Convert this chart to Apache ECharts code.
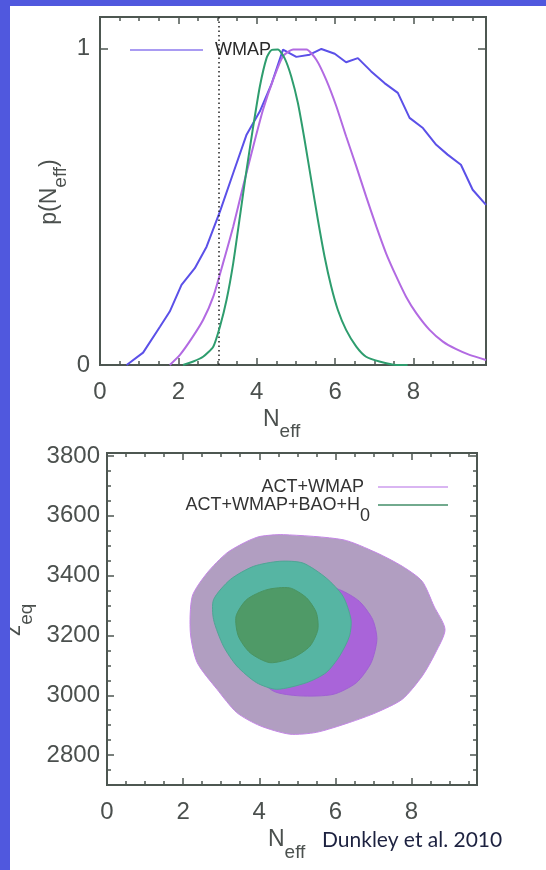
<!DOCTYPE html>
<html><head><meta charset="utf-8">
<script src="https://cdn.jsdelivr.net/npm/echarts@6/dist/echarts.min.js"></script>
<style>
html,body{margin:0;padding:0;background:#fff;width:546px;height:870px;overflow:hidden;}
#c{position:absolute;left:0;top:0;width:546px;height:870px;}
#bl{position:absolute;left:0;top:0;width:10px;height:870px;background:#5058de;}
#bt{position:absolute;left:0;top:0;width:546px;height:6px;background:#5058de;}
</style></head><body>
<div id="c"></div><div id="bl"></div><div id="bt"></div>
<script>
// ---------- data ----------
const wmap = [[0.68,0],[1.10,0.039],[1.53,0.121],[1.78,0.169],[2.08,0.253],[2.42,0.306],[2.72,0.374],[3.06,0.485],[3.40,0.607],[3.74,0.728],[4.08,0.802],[4.37,0.886],[4.67,0.997],[5.01,0.974],[5.35,0.981],[5.65,0.999],[5.99,0.984],[6.28,0.957],[6.58,0.970],[6.92,0.928],[7.26,0.891],[7.60,0.860],[7.90,0.781],[8.24,0.749],[8.58,0.696],[8.87,0.665],[9.21,0.633],[9.51,0.554],[9.85,0.506]];
const actWmap = [[1.78,0],[2.04,0.032],[2.34,0.084],[2.63,0.142],[2.89,0.216],[3.14,0.322],[3.40,0.438],[3.65,0.564],[3.91,0.691],[4.16,0.807],[4.42,0.902],[4.67,0.976],[4.93,0.997],[5.27,0.997],[5.52,0.965],[5.77,0.902],[6.03,0.818],[6.28,0.723],[6.54,0.628],[6.79,0.533],[7.05,0.438],[7.30,0.353],[7.56,0.280],[7.81,0.216],[8.07,0.164],[8.41,0.111],[8.75,0.074],[9.09,0.050],[9.43,0.032],[9.85,0.016]];
const actBao = [[2.12,0],[2.38,0.011],[2.63,0.026],[2.89,0.058],[3.06,0.121],[3.23,0.206],[3.40,0.322],[3.57,0.469],[3.74,0.617],[3.91,0.754],[4.08,0.881],[4.25,0.970],[4.37,0.995],[4.54,0.997],[4.71,0.970],[4.88,0.912],[5.05,0.828],[5.22,0.712],[5.39,0.585],[5.56,0.459],[5.73,0.343],[5.90,0.248],[6.07,0.174],[6.28,0.111],[6.54,0.058],[6.79,0.026],[7.13,0.011],[7.56,0],[7.85,0]];
const nStandard = 3.04;

// 2D contours (N_eff, z_eq)
const actOuter = [[4.02,3531],[4.63,3537],[6.20,3520],[7.07,3477],[7.76,3431],[8.28,3381],[8.59,3298],[8.88,3220],[8.63,3142],[8.28,3064],[7.76,2987],[7.07,2942],[6.37,2909],[5.50,2876],[4.80,2870],[4.02,2898],[3.41,2942],[2.89,3020],[2.37,3109],[2.19,3209],[2.24,3331],[2.63,3409],[3.15,3476],[3.67,3514]];
const actInner = [[5.33,3376],[6.11,3353],[6.63,3314],[6.98,3253],[7.09,3187],[6.94,3109],[6.55,3042],[5.94,3003],[5.07,2998],[4.37,3014],[3.76,3087],[3.32,3198],[3.59,3309],[4.46,3364]];
const baoOuter = [[4.54,3448],[5.15,3442],[5.76,3392],[6.20,3331],[6.41,3253],[6.37,3198],[6.11,3131],[5.76,3076],[5.24,3042],[4.46,3020],[3.93,3042],[3.41,3098],[3.06,3164],[2.80,3253],[2.80,3320],[3.24,3387],[3.85,3431]];
const baoInner = [[4.80,3359],[5.24,3326],[5.50,3276],[5.54,3220],[5.33,3164],[4.89,3126],[4.28,3109],[3.76,3142],[3.45,3198],[3.39,3264],[3.67,3320],[4.20,3353]];

// ticks / labels
const xLabels = [0,2,4,6,8];
const pLabels = [0,1];
const zLabels = [2800,3000,3200,3400,3600,3800];

// ---------- style ----------
const AX = '#4d5751';
const LBL = '#4b504e';
const FONT = 'Liberation Sans';

function ax(gi, pos, min, max, interval, len, labels, margin, custom) {
  const a = {
    type:'value', gridIndex:gi, position:pos, min:min, max:max,
    axisLine:{show:false, onZero:false}, splitLine:{show:false},
    axisTick:{show:true, inside:true, length:len, lineStyle:{color:AX, width:1.5}},
    axisLabel:{show:false}
  };
  if (custom) a.axisTick.customValues = custom; else a.interval = interval;
  if (labels) {
    a.axisLabel = {show:true, customValues:labels, margin:margin, color:LBL, fontSize:24, fontFamily:FONT,
      formatter:function(v){ return String(v); }};
  }
  return a;
}

const X0 = [0, 9.85], X1 = [0, 9.72];
const P = [0, 1.1], Z = [2700, 3810];

function poly(name, pts, fill, stroke, zz) {
  return {
    type:'custom', name:name, xAxisIndex:4, yAxisIndex:2, z:zz, silent:true,
    data: pts,
    itemStyle:{color:fill},
    renderItem: function(params, api) {
      if (params.dataIndex !== 0) return null;
      const p = pts.map(function(d){ return api.coord(d); });
      return {type:'polygon', shape:{points:p, smooth:0.25}, style:{fill:fill, stroke:stroke, lineWidth:1}};
    }
  };
}

const chart = echarts.init(document.getElementById('c'), null, {renderer:'canvas'});
chart.setOption({
  animation:false,
  backgroundColor:'transparent',
  grid:[
    {left:100, top:17, width:386, height:348, show:true, borderColor:AX, borderWidth:2},
    {left:107, top:453, width:370, height:332, show:true, borderColor:AX, borderWidth:2}
  ],
  xAxis:[
    ax(0,'bottom',X0[0],X0[1],2,7,xLabels,15),
    ax(0,'bottom',X0[0],X0[1],0.5,4),
    ax(0,'top',X0[0],X0[1],2,7),
    ax(0,'top',X0[0],X0[1],0.5,4),
    ax(1,'bottom',X1[0],X1[1],2,7,xLabels,15),
    ax(1,'bottom',X1[0],X1[1],0.5,4),
    ax(1,'top',X1[0],X1[1],2,7),
    ax(1,'top',X1[0],X1[1],0.5,4)
  ],
  yAxis:[
    ax(0,'left',P[0],P[1],1,8,pLabels,10),
    ax(0,'right',P[0],P[1],1,8),
    ax(1,'left',Z[0],Z[1],200,7,zLabels,7,zLabels),
    ax(1,'left',Z[0],Z[1],50,4),
    ax(1,'right',Z[0],Z[1],200,7,null,0,zLabels),
    ax(1,'right',Z[0],Z[1],50,4)
  ],
  legend:[
    {left:130, top:41, padding:0, icon:'rect', itemWidth:73, itemHeight:2, selectedMode:false,
     data:[{name:'WMAP', itemStyle:{color:'#a99bf2'}}],
     textStyle:{color:'#2a2a2a', fontSize:18, fontFamily:FONT, padding:[0,0,0,7]}},
    {right:98, top:478, padding:0, icon:'rect', align:'right', itemWidth:70, itemHeight:2, selectedMode:false,
     data:[{name:'ACT+WMAP', itemStyle:{color:'#d9b5f2'}}],
     textStyle:{color:'#333', fontSize:18, fontFamily:FONT, padding:[0,9,0,0]}},
    {right:98, top:496, padding:0, icon:'rect', align:'right', itemWidth:70, itemHeight:2, selectedMode:false,
     data:[{name:'ACT+WMAP+BAO+H0', itemStyle:{color:'#72aa8e'}}],
     formatter:function(){ return '{a|ACT+WMAP+BAO+H}{s|0}'; },
     textStyle:{color:'#333', fontSize:18, fontFamily:FONT, padding:[0,3,0,0],
       rich:{a:{fontSize:18, fontFamily:FONT, color:'#333'}, s:{fontSize:18, fontFamily:FONT, color:'#333', padding:[22,0,0,0]}}}}
  ],
  series:[
    {type:'line', name:'WMAP', xAxisIndex:0, yAxisIndex:0, data:wmap, symbol:'none', showSymbol:false, z:3,
     lineStyle:{color:'#5b50e8', width:2}, itemStyle:{color:'#5b50e8'},
     markLine:{silent:true, symbol:'none', label:{show:false}, animation:false,
       lineStyle:{color:'#222', type:[1.5,3], width:1.5}, data:[{xAxis:nStandard}]}},
    {type:'line', name:'ACT+WMAP', xAxisIndex:0, yAxisIndex:0, data:actWmap, symbol:'none', showSymbol:false, smooth:0.2, z:4,
     lineStyle:{color:'#b26ae2', width:2}, itemStyle:{color:'#b26ae2'}},
    {type:'line', name:'ACT+WMAP+BAO+H0', xAxisIndex:0, yAxisIndex:0, data:actBao, symbol:'none', showSymbol:false, smooth:0.2, z:5,
     lineStyle:{color:'#2e9d6e', width:2}, itemStyle:{color:'#2e9d6e'}},
    poly('ACT+WMAP 95%', actOuter, '#b19ec1', '#c486e6', 2),
    poly('ACT+WMAP 68%', actInner, '#a964d9', '#a060d4', 3),
    poly('ACT+WMAP+BAO+H0 95%', baoOuter, '#56b5a3', '#4fa595', 4),
    poly('ACT+WMAP+BAO+H0 68%', baoInner, '#4f9a67', '#4a9462', 5)
  ],
  graphic:[
    {type:'text', x:50, y:192, rotation:Math.PI/2,
     style:{text:'{a|p(N}{s|eff}{a|)}', textAlign:'center', textVerticalAlign:'middle', fill:LBL,
       rich:{a:{fontSize:23, fontFamily:FONT, color:LBL}, s:{fontSize:19, fontFamily:FONT, color:LBL, padding:[22,0,0,0]}}}},
    {type:'text', x:263, y:420,
     style:{text:'{a|N}{s|eff}', textAlign:'left', textVerticalAlign:'middle', fill:LBL,
       rich:{a:{fontSize:23, fontFamily:FONT, color:LBL}, s:{fontSize:19, fontFamily:FONT, color:LBL, padding:[24,0,0,0]}}}},
    {type:'text', x:14, y:620, rotation:Math.PI/2,
     style:{text:'{a|z}{s|eq}', textAlign:'center', textVerticalAlign:'middle', fill:LBL,
       rich:{a:{fontSize:23, fontFamily:FONT, color:LBL}, s:{fontSize:19, fontFamily:FONT, color:LBL, padding:[26,0,0,0]}}}},
    {type:'text', x:268, y:840,
     style:{text:'{a|N}{s|eff}', textAlign:'left', textVerticalAlign:'middle', fill:LBL,
       rich:{a:{fontSize:23, fontFamily:FONT, color:LBL}, s:{fontSize:19, fontFamily:FONT, color:LBL, padding:[26,0,0,0]}}}},
    {type:'text', x:322, y:840,
     style:{text:'Dunkley et al. 2010', textAlign:'left', textVerticalAlign:'middle', fill:'#1d2240', font:'21px Lato'}}
  ]
});
</script>
</body></html>
